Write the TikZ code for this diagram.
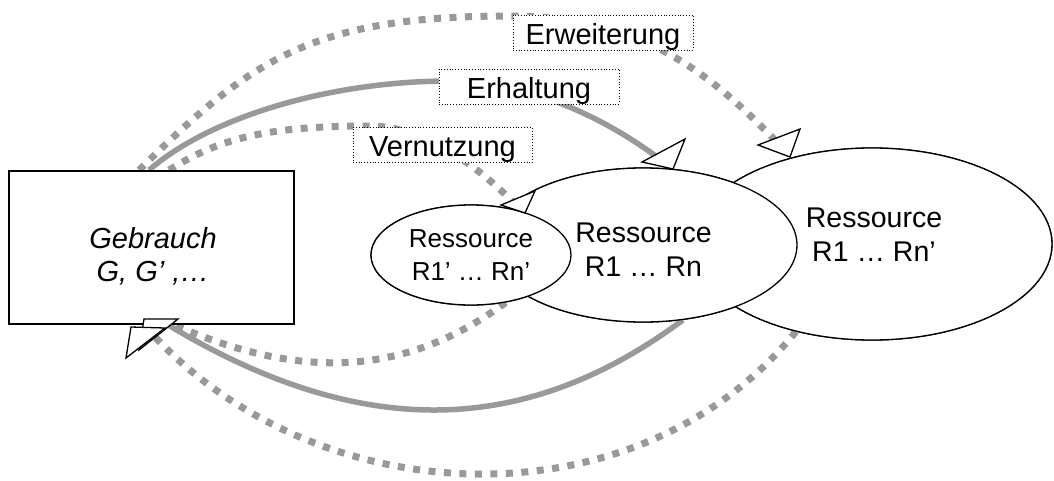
\documentclass[tikz,border=0pt]{standalone}
\usepackage{fontspec}
\setmainfont{Liberation Sans}
\usetikzlibrary{shapes.geometric}
\definecolor{arcgray}{RGB}{153,153,153}
\tikzset{
  dotarc/.style={draw=arcgray, line width=7pt, dash pattern=on 7pt off 8.5pt},
  solidarc/.style={draw=arcgray, line width=5.5pt},
  lbl/.style={draw=black, line width=0.8pt, dotted, fill=white, minimum width=180pt,
    inner xsep=0pt, inner ysep=0pt, text height=29pt, text depth=6pt,
    font=\fontsize{29}{34}\selectfont},
  res/.style={ellipse, draw=black, line width=1.3pt, fill=white, inner sep=0pt},
  restext/.style={align=center, inner sep=0pt, font=\fontsize{28.5}{34}\selectfont},
  smalltext/.style={align=center, inner sep=0pt, font=\fontsize{26}{33}\selectfont},
  usebox/.style={draw=black, line width=1.8pt, fill=white, minimum width=285pt, minimum height=153pt, inner sep=0pt},
  tri/.style={draw=black, line width=1.3pt, fill=white, line join=miter},
}
\begin{document}
\begin{tikzpicture}[x=1pt,y=-1pt]
\useasboundingbox (0,0) rectangle (1054,480);
% main shapes (positions)
\node[usebox] (geb) at (151.5,247.5) {};
\node[res, minimum width=360pt, minimum height=192pt] (large) at (872,244) {};
\node[res, minimum width=308pt, minimum height=154pt] (mid) at (643,245) {};
\node[res, minimum width=200pt, minimum height=100pt] (small) at (471,255) {};
% arcs (connectors)
\path[dotarc] ([xshift=131pt]geb.north west) .. controls (250,61) and (310,16) .. (510,16)
   .. controls (640,16) and (710,70) .. (large.133.6);
\path[solidarc] ([xshift=141pt]geb.north west) .. controls (210,117) and (330,81) .. (450,81)
   .. controls (530,81) and (612,120) .. (mid.69);
\path[dotarc] ([xshift=161pt]geb.north west) .. controls (220,137.5) and (270,126) .. (370,126)
   .. controls (430,126) and (485,173) .. (small.40);
\path[dotarc] (small.-54) .. controls (405,377) and (300,380) .. ([xshift=166pt]geb.south west);
\path[solidarc] (mid.-62.5) .. controls (532,432) and (369,446) .. ([xshift=160pt]geb.south west);
\path[dotarc] (large.229.2) .. controls (634,531) and (308,514) .. ([xshift=136pt]geb.south west);
% labels
\node[lbl] (lerw) at (603,32.5) {Erweiterung};
\node[lbl] (lerh) at (529,86.5) {Erhaltung};
\node[lbl, minimum width=179pt] (lver) at (442.5,145) {Vernutzung};
% redraw shapes on top of arcs
\node[res, minimum width=360pt, minimum height=192pt] at (large.center) {};
\node[res, minimum width=308pt, minimum height=154pt] at (mid.center) {};
\node[res, minimum width=200pt, minimum height=100pt] at (small.center) {};
\node[usebox] at (geb.center) {};
% texts
\node[restext] (tlarge) at ([xshift=2pt,yshift=9.2pt]large.center) {Ressource\\R1 … Rn’};
\node[restext] (tmid) at ([xshift=0.5pt,yshift=-4.8pt]mid.center) {Ressource\\R1 … Rn};
\node[smalltext] (tsmall) at ([yshift=-0.2pt]small.center) {Ressource\\R1’ … Rn’};
\node[align=center, inner sep=0pt, font=\fontsize{29}{33}\selectfont\itshape] (tgeb)
  at ([xshift=1.5pt,yshift=-8.5pt]geb.center) {Gebrauch\\G, G’ ,…};
% arrowheads
\filldraw[tri] (501,205) -- (535,191) -- (525,213) -- cycle;
\filldraw[tri] (642,162) -- (685,139) -- (673,169) -- cycle;
\filldraw[tri] (758,145) -- (800,129) -- (790,157) -- cycle;
\filldraw[tri] (144,319) -- (178,319) -- (139,350) -- cycle;
\filldraw[tri] (131,327) -- (165,328) -- (126,358) -- cycle;
\end{tikzpicture}
\end{document}
